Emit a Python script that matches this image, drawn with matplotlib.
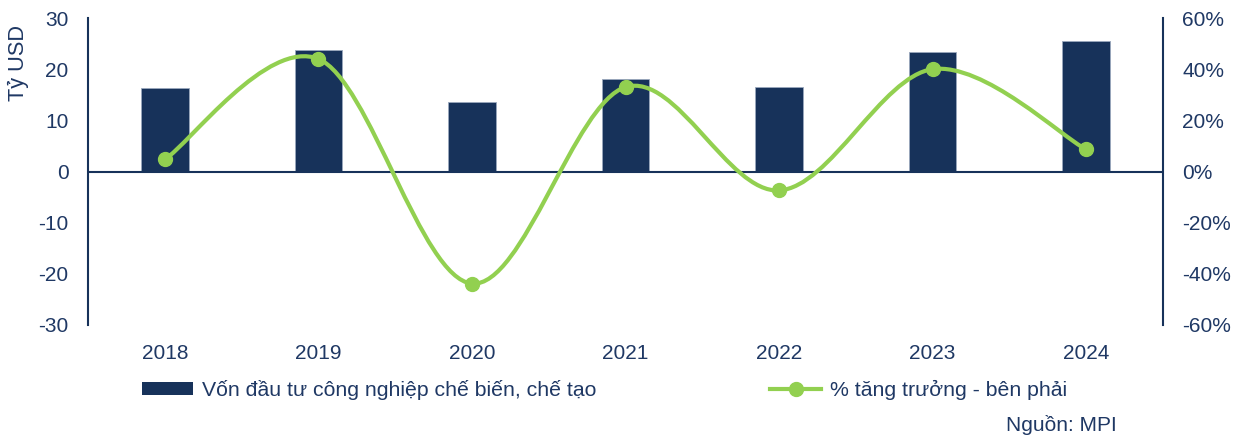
import numpy as np
import matplotlib.pyplot as plt
from matplotlib.path import Path
from matplotlib.patches import PathPatch
from matplotlib.lines import Line2D
from matplotlib.patches import Patch

plt.rcParams['font.family'] = ['Liberation Sans', 'DejaVu Sans']
plt.rcParams['axes.unicode_minus'] = False

# Dữ liệu
years = ['2018', '2019', '2020', '2021', '2022', '2023', '2024']
von_dau_tu = [16.4, 23.8, 13.5, 18.0, 16.6, 23.4, 25.6]       # Tỷ USD
tang_truong = [4.7, 44.0, -43.8, 33.0, -7.4, 40.0, 8.6]        # %

navy = '#17325a'
green = '#92d050'
txt = '#1f3864'
fs = 15

fig = plt.figure(figsize=(12.41, 4.37), dpi=100)
ax = fig.add_axes([88 / 1241, 1 - 325 / 437, (1163 - 88) / 1241, (325 - 18) / 437])
ax2 = ax.twinx()

x = np.arange(len(years))
ax.bar(x, von_dau_tu, width=0.31, color=navy, edgecolor='#9aa8bd', linewidth=0.6, zorder=2)
ax.axhline(0, color=navy, linewidth=1.5, zorder=3)

# Đường cong mượt kiểu Excel (Catmull-Rom -> Bezier)
y = np.array(tang_truong, dtype=float)
xs = x.astype(float)
verts = [(xs[0], y[0])]
codes = [Path.MOVETO]
n = len(xs)
for i in range(n - 1):
    p0 = (xs[max(i - 1, 0)], y[max(i - 1, 0)])
    p1 = (xs[i], y[i])
    p2 = (xs[i + 1], y[i + 1])
    p3 = (xs[min(i + 2, n - 1)], y[min(i + 2, n - 1)])
    c1 = (p1[0] + (p2[0] - p0[0]) / 6, p1[1] + (p2[1] - p0[1]) / 6)
    c2 = (p2[0] - (p3[0] - p1[0]) / 6, p2[1] - (p3[1] - p1[1]) / 6)
    verts += [c1, c2, p2]
    codes += [Path.CURVE4] * 3
ax2.add_patch(PathPatch(Path(verts, codes), facecolor='none', edgecolor=green, linewidth=3, zorder=4))
ax2.plot(x, tang_truong, linestyle='none', marker='o', markersize=10, color=green, zorder=5)

ax.set_xlim(-0.5, len(years) - 0.5)
ax.set_ylim(-30, 30)
ax.set_yticks([-30, -20, -10, 0, 10, 20, 30])
ax2.set_ylim(-60, 60)
ax2.set_yticks([-60, -40, -20, 0, 20, 40, 60])
ax2.set_yticklabels([f'{v}%' for v in range(-60, 61, 20)])
ax.set_xticks(x)
ax.set_xticklabels(years)

for a in (ax, ax2):
    for s in ['top', 'bottom']:
        a.spines[s].set_visible(False)
    a.spines['left'].set_color(navy)
    a.spines['right'].set_color(navy)
    a.spines['left'].set_linewidth(1.5)
    a.spines['right'].set_linewidth(1.5)
    a.tick_params(length=0, labelsize=fs, colors=txt)
ax.spines['right'].set_visible(False)
ax2.spines['left'].set_visible(False)
ax.tick_params(axis='y', pad=14)
ax2.tick_params(axis='y', pad=14)
ax.tick_params(axis='x', pad=14)

fig.text(18 / 1241, 1 - 25 / 437, 'Tỷ USD', rotation=90, ha='center', va='top',
         fontsize=15.7, color=txt)

handles = [Patch(facecolor=navy, edgecolor='none'),
           Line2D([0], [0], color=green, linewidth=3, marker='o', markersize=10)]
labels = ['Vốn đầu tư công nghiệp chế biến, chế tạo', '% tăng trưởng - bên phải']
fig.legend(handles, labels, loc='center left', bbox_to_anchor=(123 / 1241, 1 - 390 / 437),
           ncol=2, frameon=False, fontsize=15.3, labelcolor=txt, handlelength=2.4,
           handleheight=0.6, handletextpad=0.4, columnspacing=8.2)

fig.text(1117 / 1241, 1 - 425 / 437, 'Nguồn: MPI', ha='right', va='center', fontsize=fs, color=txt)

fig.savefig('out.png', dpi=100)
